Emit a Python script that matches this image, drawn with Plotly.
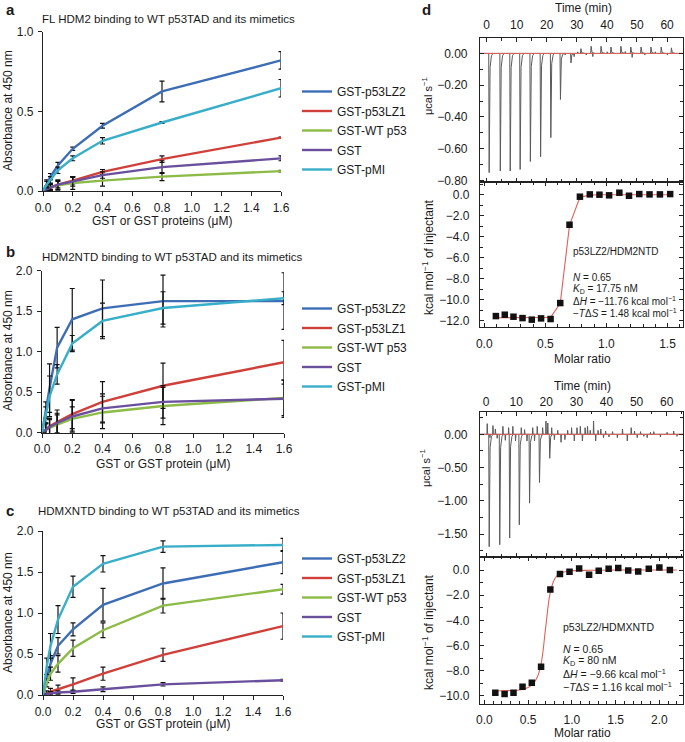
import plotly.graph_objects as go

# ---------------- data ----------------
conc = [0, 0.025, 0.05, 0.1, 0.2, 0.4, 0.8, 1.6]
names = ["GST-p53LZ2", "GST-p53LZ1", "GST-WT p53", "GST", "GST-pMI"]

# panel a : FL HDM2
a_lz2 = [0, 0.05, 0.09, 0.16, 0.265, 0.41, 0.625, 0.82]
a_lz1 = [0, 0.01, 0.02, 0.04, 0.065, 0.12, 0.20, 0.335]
a_wt = [0, 0.015, 0.025, 0.035, 0.05, 0.065, 0.09, 0.125]
a_gst = [0, 0.012, 0.022, 0.04, 0.06, 0.10, 0.15, 0.205]
a_pmi = [0, 0.04, 0.07, 0.13, 0.205, 0.315, 0.43, 0.645]
a_lz2_err = [0, 0.02, 0.02, 0.02, 0.01, 0.015, 0.065, 0.055]
a_lz1_err = [0, 0.01, 0.01, 0.02, 0.02, 0.015, 0.02, 0.004]
a_wt_err = [0, 0.01, 0.02, 0.03, 0.04, 0.035, 0.025, 0.005]
a_gst_err = [0, 0.01, 0.02, 0.03, 0.03, 0.02, 0.04, 0.015]
a_pmi_err = [0, 0.02, 0.02, 0.02, 0.015, 0.02, 0.005, 0.055]

# panel b : HDM2NTD
b_lz2 = [0, 0.28, 0.55, 1.05, 1.40, 1.535, 1.625, 1.625]
b_lz1 = [0, 0.04, 0.08, 0.13, 0.23, 0.38, 0.58, 0.87]
b_wt = [0, 0.03, 0.06, 0.10, 0.17, 0.25, 0.33, 0.43]
b_gst = [0, 0.04, 0.07, 0.12, 0.20, 0.30, 0.38, 0.42]
b_pmi = [0, 0.22, 0.45, 0.72, 1.10, 1.38, 1.54, 1.66]
b_lz2_err = [0, 0.10, 0.30, 0.25, 0.38, 0.35, 0.32, 0.35]
b_lz1_err = [0, 0.08, 0.10, 0.15, 0.18, 0.25, 0.28, 0.27]
b_wt_err = [0, 0.08, 0.10, 0.12, 0.15, 0.20, 0.23, 0.22]
b_gst_err = [0, 0.08, 0.10, 0.12, 0.20, 0.18, 0.20, 0.23]
b_pmi_err = [0, 0.10, 0.25, 0.12, 0.10, 0.22, 0.20, 0.08]

# panel c : HDMXNTD
c_lz2 = [0, 0.20, 0.38, 0.60, 0.80, 1.10, 1.36, 1.62]
c_lz1 = [0, 0.02, 0.04, 0.07, 0.13, 0.26, 0.49, 0.84]
c_wt = [0, 0.15, 0.26, 0.38, 0.57, 0.79, 1.09, 1.29]
c_gst = [0, 0.01, 0.02, 0.03, 0.04, 0.07, 0.13, 0.18]
c_pmi = [0, 0.35, 0.60, 0.92, 1.32, 1.60, 1.81, 1.83]
c_lz2_err = [0, 0.05, 0.10, 0.10, 0.08, 0.20, 0.19, 0.14]
c_lz1_err = [0, 0.03, 0.04, 0.05, 0.08, 0.08, 0.08, 0.16]
c_wt_err = [0, 0.05, 0.08, 0.10, 0.10, 0.09, 0.09, 0.06]
c_gst_err = [0, 0.01, 0.02, 0.02, 0.02, 0.03, 0.02, 0.01]
c_pmi_err = [0, 0.10, 0.15, 0.17, 0.13, 0.10, 0.07, 0.08]

# panel d : ITC p53LZ2/HDM2NTD
therm1_inj_time = [0.7, 4.4, 7.7, 11.0, 14.4, 17.8, 21.2, 24.4, 27.9, 31.2,
                   34.6, 37.9, 41.2, 44.5, 47.8, 51.2, 54.5, 57.9, 61.3]
therm1_inj_peak = [-0.75, -0.74, -0.74, -0.73, -0.68, -0.65, -0.53, -0.29, -0.06, 0.03,
                   0.045, 0.045, 0.04, 0.045, 0.04, 0.04, 0.04, 0.04, 0.035]
therm1_noise_time = [26.0, 29.0, 30.2, 33.0, 35.2, 40.0, 46.0, 48.3, 52.5, 56.0, 60.0]
therm1_noise_val = [-0.01, -0.02, 0.01, -0.01, -0.02, 0.01, 0.012, -0.025, -0.01, 0.01, -0.01]
itc1_ratio = [0.095, 0.168, 0.239, 0.313, 0.389, 0.465, 0.543, 0.622, 0.698, 0.783,
              0.864, 0.943, 1.022, 1.106, 1.185, 1.269, 1.353, 1.438, 1.522]
itc1_heat = [-11.56, -11.43, -11.62, -11.75, -11.90, -11.78, -11.84, -10.32, -2.86, -0.19,
             0.03, 0.0, -0.06, 0.19, -0.10, 0.06, 0.03, 0.03, 0.06]
itc1_fit = [-11.72, -11.72, -11.72, -11.72, -11.72, -11.71, -11.68, -10.35, -2.90, -0.25,
            -0.04, -0.01, 0, 0, 0, 0, 0, 0, 0]

# panel d : ITC p53LZ2/HDMXNTD
therm2_inj_time = [0.9, 4.4, 7.7, 10.9, 14.3, 17.6, 21.0]
therm2_inj_peak = [-1.69, -1.66, -1.56, -1.36, -1.035, -0.725, -0.36]
therm2_noise_time = [0.3, 1.2, 2.2, 3.0, 3.6, 5.5, 6.3, 7.4, 8.8, 9.7, 11.6, 12.7, 13.5, 15.4,
                     16.0, 16.9, 18.7, 19.8, 20.4, 21.7, 22.6, 23.7, 24.8, 26.1, 27.0, 28.3,
                     29.2, 30.1, 31.2, 31.9, 32.8, 33.6, 34.5, 35.6, 36.3, 37.1, 38.0, 38.9,
                     39.6, 40.7, 41.9, 43.5, 45.2, 46.8, 48.1, 49.2, 50.1, 51.2, 52.3, 53.4,
                     54.5, 55.6, 57.8, 60.0, 62.2, 63.3]
therm2_noise_val = [0.16, -0.05, 0.13, 0.08, -0.06, 0.12, -0.09, 0.10, 0.12, -0.10, 0.10, 0.07,
                    -0.10, 0.10, -0.10, 0.12, 0.10, 0.20, 0.17, 0.10, -0.08, 0.06, -0.12, -0.08,
                    0.06, 0.10, -0.10, 0.10, 0.12, -0.10, 0.10, 0.12, 0.06, 0.20, -0.10, 0.06,
                    0.08, -0.05, 0.05, -0.04, 0.04, -0.05, 0.08, -0.10, 0.10, 0.05, -0.05, 0.04,
                    -0.03, -0.05, 0.03, 0.04, -0.04, 0.03, 0.05, -0.03]
itc2_ratio = [0.125, 0.231, 0.333, 0.436, 0.542, 0.648, 0.754, 0.864, 0.973, 1.083,
              1.197, 1.307, 1.420, 1.530, 1.644, 1.758, 1.879, 2.000, 2.120]
itc2_heat = [-9.76, -9.87, -9.76, -9.28, -8.97, -7.69, -1.54, -0.32, -0.13, 0.13,
             -0.37, -0.05, 0.11, 0.16, -0.03, -0.11, 0.11, 0.21, 0.0]
itc2_fit_ratio = [0.1, 0.2, 0.3, 0.4, 0.5, 0.55, 0.6, 0.65, 0.7, 0.75, 0.8, 0.85, 0.9, 1.0,
                  1.2, 1.6, 2.2]
itc2_fit_heat = [-9.62, -9.61, -9.59, -9.55, -9.35, -9.1, -8.6, -7.4, -4.6, -1.9, -0.75,
                 -0.33, -0.17, -0.06, -0.02, 0, 0]
baseline_time = [-2.5, 66]
baseline_val = [0, 0]

# ---------------- style ----------------
W, H = 685, 742
FONT = "Liberation Sans, Arial, Helvetica, sans-serif"
TXT = "#1a1a1a"
COLORS = ["#3d6db5", "#d0403a", "#8dbb47", "#6a4f9c", "#38aec9"]


def px(x):
    return x / W


def py(y):
    return 1 - y / H


fig = go.Figure()


def add_panel(vals, errs, xa, ya, leg):
    for name, v, e, col in zip(names, vals, errs, COLORS):
        fig.add_trace(go.Scatter(
            x=conc, y=v, mode="lines", name=name, legendgroup=leg + name,
            line=dict(color=col, width=2.4),
            error_y=dict(type="data", array=e, color="#111", thickness=1.2, width=2.5),
            xaxis=xa, yaxis=ya, legend=leg, cliponaxis=False))


add_panel([a_lz2, a_lz1, a_wt, a_gst, a_pmi],
          [a_lz2_err, a_lz1_err, a_wt_err, a_gst_err, a_pmi_err], "x", "y", "legend")
add_panel([b_lz2, b_lz1, b_wt, b_gst, b_pmi],
          [b_lz2_err, b_lz1_err, b_wt_err, b_gst_err, b_pmi_err], "x2", "y2", "legend2")
add_panel([c_lz2, c_lz1, c_wt, c_gst, c_pmi],
          [c_lz2_err, c_lz1_err, c_wt_err, c_gst_err, c_pmi_err], "x3", "y3", "legend3")


def spike_path(times, vals, shape):
    xs, ys = [], []
    for t, v in zip(times, vals):
        for dt, f in shape:
            xs.append(t + dt)
            ys.append(v * f)
        xs.append(None)
        ys.append(None)
    return xs, ys


INJ = [(0, 0), (0.15, 1), (0.45, 0.12), (0.9, 0.02), (1.4, 0)]
NOISE = [(0, 0), (0.1, 1), (0.25, 0)]


def add_thermo(inj_t, inj_p, n_t, n_v, xa, ya):
    fig.add_trace(go.Scatter(x=baseline_time, y=baseline_val, mode="lines",
                             line=dict(color="#6a6a6a", width=1), xaxis=xa, yaxis=ya,
                             showlegend=False))
    for tt, vv, shape in [(inj_t, inj_p, INJ), (n_t, n_v, NOISE)]:
        xs, ys = spike_path(tt, vv, shape)
        fig.add_trace(go.Scatter(x=xs, y=ys, mode="lines", connectgaps=False,
                                 line=dict(color="#5a5a5a", width=1), xaxis=xa, yaxis=ya,
                                 showlegend=False))
    fig.add_trace(go.Scatter(x=baseline_time, y=baseline_val, mode="lines",
                             line=dict(color="#e0605a", width=1), xaxis=xa, yaxis=ya,
                             showlegend=False))


add_thermo(therm1_inj_time, therm1_inj_peak, therm1_noise_time, therm1_noise_val, "x4", "y4")
add_thermo(therm2_inj_time, therm2_inj_peak, therm2_noise_time, therm2_noise_val, "x6", "y6")

fig.add_trace(go.Scatter(x=itc1_ratio, y=itc1_fit, mode="lines",
                         line=dict(color="#e0605a", width=1.1), xaxis="x5", yaxis="y5",
                         showlegend=False))
fig.add_trace(go.Scatter(x=itc1_ratio, y=itc1_heat, mode="markers",
                         marker=dict(symbol="square", size=6.5, color="#111"),
                         xaxis="x5", yaxis="y5", showlegend=False))
fig.add_trace(go.Scatter(x=itc2_fit_ratio, y=itc2_fit_heat, mode="lines",
                         line=dict(color="#e0605a", width=1.1, shape="spline"),
                         xaxis="x7", yaxis="y7", showlegend=False))
fig.add_trace(go.Scatter(x=itc2_ratio, y=itc2_heat, mode="markers",
                         marker=dict(symbol="square", size=6.5, color="#111"),
                         xaxis="x7", yaxis="y7", showlegend=False))

# ---------------- axes ----------------
tickfont = dict(family=FONT, size=12, color=TXT)


def abs_x(dom, anchor):
    return dict(domain=dom, range=[0, 1.6], anchor=anchor, showline=True, linecolor="#222",
                linewidth=1.2, ticks="outside", ticklen=4, tickcolor="#222", tickwidth=1.1,
                tickvals=[0, 0.2, 0.4, 0.6, 0.8, 1.0, 1.2, 1.4, 1.6], tickformat=".1f",
                showgrid=False, zeroline=False, tickfont=tickfont, ticklabelstandoff=1,
                automargin=False)


def abs_y(dom, anchor, top):
    vals = [v / 2 for v in range(int(top * 2) + 1)]
    return dict(domain=dom, range=[0, top], anchor=anchor, showline=True, linecolor="#222",
                linewidth=1.2, ticks="outside", ticklen=4, tickcolor="#222", tickwidth=1.1,
                tickvals=vals, tickformat=".1f", showgrid=False, zeroline=False,
                tickfont=tickfont, ticklabelstandoff=2, automargin=False)


def fmt(v, dec):
    s = f"{abs(v):.{dec}f}"
    return ("\u2212" + s) if v < 0 else s


def box_ax(dom, rng, anchor, vals, dec, minor, side=None, standoff=6):
    d = dict(domain=dom, range=rng, anchor=anchor, showline=True, linecolor="#222",
             linewidth=1.2, mirror="ticks", ticks="inside", ticklen=4, tickcolor="#222",
             tickwidth=1, tickvals=vals, ticktext=[fmt(v, dec) for v in vals],
             minor=dict(dtick=minor, ticks="inside", ticklen=2.5, tickcolor="#222"),
             showgrid=False, zeroline=False, tickfont=tickfont, ticklabelstandoff=standoff,
             automargin=False)
    if side:
        d["side"] = side
    return d


XD = [px(480), px(683)]
fig.update_layout(
    xaxis=abs_x([px(43), px(281)], "y"),
    yaxis=abs_y([py(191), py(31.7)], "x", 1.0),
    xaxis2=abs_x([px(42), px(284)], "y2"),
    yaxis2=abs_y([py(432.7), py(270.7)], "x2", 2.0),
    xaxis3=abs_x([px(43), px(283)], "y3"),
    yaxis3=abs_y([py(695), py(531)], "x3", 2.0),
    xaxis4=box_ax(XD, [-2.2, 65.3], "y4", [0, 10, 20, 30, 40, 50, 60], 0, 5, side="top",
                  standoff=3),
    yaxis4=box_ax([py(182), py(38)], [-0.809, 0.097], "x4", [0, -0.2, -0.4, -0.6, -0.8], 2,
                  0.1, standoff=9),
    xaxis5=box_ax(XD, [-0.035, 1.627], "y5", [0, 0.5, 1.0, 1.5], 1, 0.1, standoff=5),
    yaxis5=box_ax([py(327), py(182)], [-12.6, 1.21], "x5", [0, -2, -4, -6, -8, -10, -12], 1,
                  1, standoff=7),
    xaxis6=box_ax(XD, [-2.0, 65.4], "y6", [0, 10, 20, 30, 40, 50, 60], 0, 5, side="top",
                  standoff=0),
    yaxis6=box_ax([py(556.7), py(411.7)], [-1.84, 0.34], "x6", [0, -0.5, -1.0, -1.5], 2,
                  0.25, standoff=9),
    xaxis7=box_ax(XD, [-0.05, 2.27], "y7", [0, 0.5, 1.0, 1.5, 2.0], 1, 0.1, standoff=4),
    yaxis7=box_ax([py(704), py(556.7)], [-10.66, 1.06], "x7", [0, -2, -4, -6, -8, -10], 1,
                  1, standoff=7),
)

legfont = dict(family=FONT, size=12, color=TXT)
for key, ytop, gap in [("legend", 77, 0.5), ("legend2", 294, 0.5), ("legend3", 544, 0.5)]:
    fig.update_layout({key: dict(x=px(297), y=py(ytop), xanchor="left", yanchor="top",
                                 font=legfont, bgcolor="rgba(0,0,0,0)", itemwidth=30,
                                 tracegroupgap=gap, traceorder="grouped")})

# ---------------- text ----------------
ann = []


def text(t, x, y, size=12, xanchor="center", angle=0, bold=False):
    ann.append(dict(text=("<b>%s</b>" % t) if bold else t, x=px(x), y=py(y), xref="paper",
                    yref="paper", showarrow=False, xanchor=xanchor, yanchor="middle",
                    textangle=angle, font=dict(family=FONT, size=size, color=TXT)))


text("a", 4, 9, 15, "left", bold=True)
text("b", 4, 251, 15, "left", bold=True)
text("c", 4, 510, 15, "left", bold=True)
text("d", 420, 9, 15, "left", bold=True)
text("FL HDM2 binding to WT p53TAD and its mimetics", 168, 19, 11.5)
text("HDM2NTD binding to WT p53TAD and its mimetics", 172, 257, 11.5)
text("HDMXNTD binding to WT p53TAD and its mimetics", 169, 511, 11.5)
text("GST or GST proteins (\u03bcM)", 162, 221, 12)
text("GST or GST protein (\u03bcM)", 163, 464, 12)
text("GST or GST protein (\u03bcM)", 163, 724, 12)
text("Absorbance at 450 nm", 8, 111, 12, angle=-90)
text("Absorbance at 450 nm", 8, 351, 12, angle=-90)
text("Absorbance at 450 nm", 8, 613, 12, angle=-90)

text("Time (min)", 583, 8, 12)
text("Time (min)", 582, 386, 12)
text("\u03bccal s<sup>\u22121</sup>", 427, 96, 11, angle=-90)
text("\u03bccal s<sup>\u22121</sup>", 425, 468, 11, angle=-90)
text("kcal mol<sup>\u22121</sup> of injectant", 428, 257, 12, angle=-90)
text("kcal mol<sup>\u22121</sup> of injectant", 428, 632, 12, angle=-90)
text("Molar ratio", 582, 359, 12)
text("Molar ratio", 582, 733, 12)

text("p53LZ2/HDM2NTD", 571, 252, 10, "left")
text("<i>N</i> = 0.65", 571, 277, 10, "left")
text("<i>K</i><sub>D</sub> = 17.75 nM", 571, 289, 10, "left")
text("\u0394<i>H</i> = \u221211.76 kcal mol<sup>\u22121</sup>", 571, 301, 10, "left")
text("\u2212<i>T</i>\u0394<i>S</i> = 1.48 kcal mol<sup>\u22121</sup>", 571, 313, 10, "left")

text("p53LZ2/HDMXNTD", 561, 627, 10.5, "left")
text("<i>N</i> = 0.65", 561, 649, 10.5, "left")
text("<i>K</i><sub>D</sub> = 80 nM", 561, 661, 10.5, "left")
text("\u0394<i>H</i> = \u22129.66 kcal mol<sup>\u22121</sup>", 561, 673, 10.5, "left")
text("\u2212<i>T</i>\u0394<i>S</i> = 1.16 kcal mol<sup>\u22121</sup>", 561, 686, 10.5, "left")

fig.update_layout(width=W, height=H, margin=dict(l=0, r=0, t=0, b=0),
                  paper_bgcolor="white", plot_bgcolor="white", annotations=ann,
                  showlegend=True, font=dict(family=FONT, color=TXT))

fig.write_html("out.html", config={"displayModeBar": False},
               post_script="document.body.style.margin='0';"
                           "document.body.style.overflow='hidden';")
